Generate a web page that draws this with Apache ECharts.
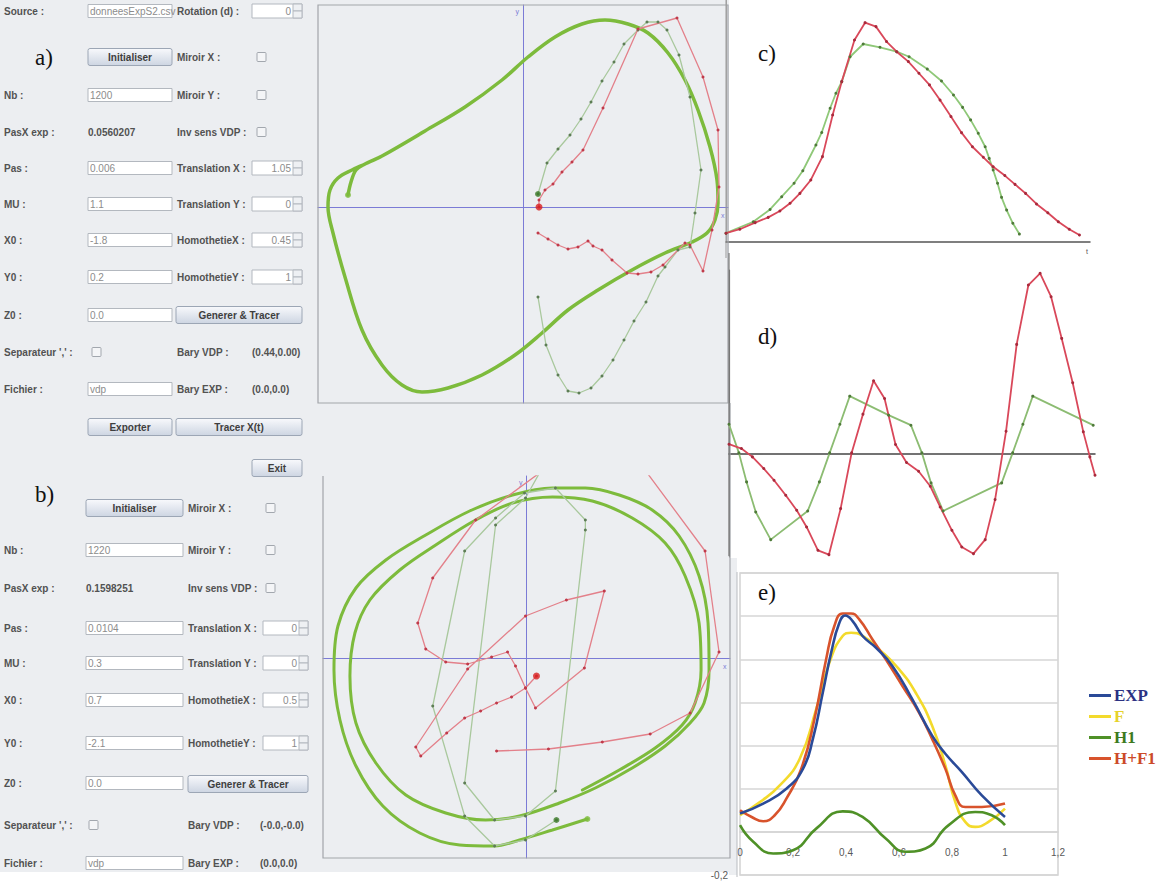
<!DOCTYPE html>
<html>
<head>
<meta charset="utf-8">
<script src="https://cdn.jsdelivr.net/npm/echarts@6/dist/echarts.min.js"></script>
<style>
html, body { margin: 0; padding: 0; background: #fff; }
#chart { width: 1165px; height: 888px; }
</style>
</head>
<body>
<div id="chart"></div>
<script>
// a) phase plane : model (thick), experimental (light green), Van der Pol (red)
const aModel = [[-1.75,0.12],[-1.72,0.25],[-1.67,0.37],[-1.58,0.43],[-1.41,0.51],[-0.98,0.76],[-0.58,1.0],[-0.21,1.27],[0.05,1.5],[0.32,1.7],[0.59,1.83],[0.82,1.87],[1.05,1.83],[1.25,1.74],[1.45,1.54],[1.62,1.27],[1.75,0.97],[1.87,0.6],[1.94,0.27],[1.95,0.04],[1.92,-0.13],[1.84,-0.26],[1.69,-0.35],[1.42,-0.46],[1.09,-0.63],[0.75,-0.83],[0.45,-1.03],[0.19,-1.26],[-0.08,-1.48],[-0.41,-1.68],[-0.75,-1.81],[-1.01,-1.85],[-1.21,-1.78],[-1.41,-1.58],[-1.61,-1.23],[-1.78,-0.7],[-1.9,-0.26],[-1.95,0.0],[-1.93,0.17],[-1.85,0.29],[-1.71,0.37],[-1.58,0.43],[-1.41,0.51],[-0.98,0.76]];
const aExp = [[0.15,0.13],[0.24,0.44],[0.35,0.58],[0.47,0.72],[0.58,0.88],[0.68,1.05],[0.79,1.26],[0.91,1.45],[1.01,1.63],[1.15,1.77],[1.24,1.85],[1.35,1.85],[1.44,1.77],[1.56,1.52],[1.67,1.1],[1.78,0.37],[1.72,-0.06],[1.67,-0.4],[1.55,-0.43],[1.42,-0.6],[1.35,-0.69],[1.23,-0.95],[1.11,-1.14],[1.01,-1.33],[0.9,-1.53],[0.79,-1.69],[0.68,-1.81],[0.56,-1.86],[0.45,-1.84],[0.35,-1.68],[0.23,-1.38],[0.15,-0.9]];
const aVdp = [[0.16,0.0],[0.16,0.07],[0.22,0.17],[0.3,0.23],[0.39,0.35],[0.49,0.45],[0.6,0.57],[0.8,0.99],[1.15,1.78],[1.54,1.89],[1.8,1.3],[1.95,0.77],[1.96,0.2],[1.89,-0.23],[1.8,-0.64],[1.67,-0.38],[1.62,-0.36],[1.4,-0.58],[1.28,-0.65],[1.15,-0.67],[1.04,-0.66],[0.89,-0.53],[0.79,-0.43],[0.7,-0.39],[0.65,-0.34],[0.55,-0.4],[0.45,-0.42],[0.35,-0.38],[0.25,-0.32],[0.15,-0.26]];
const aStartVdp = [[0.16,0.0]];
const aStartExp = [[0.15,0.13]];

// b) phase plane
const bModel = [[0.61,-1.61],[0.26,-1.72],[-0.07,-1.82],[-0.32,-1.88],[-0.67,-1.87],[-1.07,-1.75],[-1.44,-1.48],[-1.71,-1.08],[-1.87,-0.62],[-1.93,-0.12],[-1.89,0.32],[-1.71,0.7],[-1.41,0.98],[-1.01,1.23],[-0.57,1.47],[-0.14,1.63],[0.26,1.7],[0.59,1.7],[0.93,1.63],[1.26,1.48],[1.53,1.22],[1.73,0.82],[1.82,0.35],[1.83,-0.12],[1.78,-0.45],[1.64,-0.65],[1.39,-0.88],[1.06,-1.1],[0.69,-1.3],[0.33,-1.45],[-0.07,-1.58],[-0.41,-1.62],[-0.81,-1.55],[-1.21,-1.37],[-1.51,-1.05],[-1.71,-0.65],[-1.77,-0.18],[-1.72,0.25],[-1.57,0.58],[-1.27,0.88],[-0.91,1.13],[-0.51,1.38],[-0.14,1.55],[0.26,1.61],[0.66,1.57],[1.06,1.4],[1.39,1.15],[1.59,0.82],[1.73,0.35],[1.75,-0.12],[1.69,-0.45],[1.56,-0.67],[1.29,-0.9],[0.93,-1.12],[0.56,-1.32]];
const bExp = [[0.3,-1.62],[-0.01,-1.82],[-0.32,-1.88],[-0.62,-1.58],[-0.94,-0.48],[-0.62,1.07],[-0.31,1.4],[-0.02,1.65],[0.29,1.7],[0.59,1.38],[0.59,1.28],[0.29,-1.33],[-0.01,-1.58],[-0.32,-1.62],[-0.62,-1.25],[-0.31,1.33],[-0.01,1.6],[0.13,1.85]];
const bVdp1 = [[0.13,1.85],[-0.51,1.38],[-0.94,0.8],[-1.09,0.35],[-1.01,0.09],[-0.81,-0.04],[-0.59,-0.06],[-0.35,0.01],[-0.19,0.06],[-0.11,-0.08],[-0.01,-0.3],[0.09,-0.5],[0.58,-0.1],[0.78,0.67],[0.4,0.58],[-0.01,0.42],[-0.59,-0.11],[-1.11,-0.89],[-1.06,-0.98],[-0.8,-0.75],[-0.62,-0.6],[-0.46,-0.53],[-0.3,-0.45],[-0.15,-0.39],[-0.01,-0.3],[0.1,-0.18]];
const bVdp2 = [[1.21,1.85],[1.79,1.07],[1.93,0.06],[1.64,-0.55],[1.24,-0.76],[0.76,-0.84],[0.22,-0.91],[-0.3,-0.93]];
const bStartVdp = [[0.1,-0.18]];
const bStartExp = [[0.3,-1.62]];

// c) x(t)
const cVdp = [[0,0.04],[0.038,0.058],[0.08,0.088],[0.116,0.112],[0.148,0.141],[0.176,0.176],[0.203,0.221],[0.233,0.282],[0.265,0.388],[0.293,0.577],[0.318,0.729],[0.353,0.918],[0.382,0.997],[0.412,0.979],[0.441,0.911],[0.469,0.865],[0.501,0.82],[0.53,0.767],[0.559,0.714],[0.588,0.645],[0.618,0.57],[0.647,0.497],[0.677,0.433],[0.707,0.385],[0.734,0.342],[0.766,0.302],[0.794,0.262],[0.823,0.221],[0.853,0.173],[0.884,0.133],[0.913,0.092],[0.943,0.058],[0.971,0.032]];
const cExp = [[0,0.04],[0.075,0.092],[0.121,0.148],[0.153,0.206],[0.187,0.267],[0.211,0.324],[0.247,0.441],[0.263,0.498],[0.286,0.608],[0.302,0.676],[0.318,0.729],[0.341,0.842],[0.377,0.9],[0.423,0.885],[0.469,0.865],[0.503,0.842],[0.553,0.786],[0.592,0.732],[0.625,0.668],[0.65,0.612],[0.672,0.555],[0.693,0.494],[0.712,0.433],[0.723,0.38],[0.734,0.327],[0.746,0.267],[0.757,0.203],[0.771,0.145],[0.788,0.085],[0.806,0.036]];

// d) derivative
const dVdp = [[0,0.056],[0.034,0.03],[0.064,-0.02],[0.095,-0.09],[0.123,-0.16],[0.155,-0.25],[0.185,-0.34],[0.212,-0.44],[0.243,-0.58],[0.273,-0.606],[0.305,-0.33],[0.335,0.004],[0.366,0.236],[0.395,0.436],[0.425,0.33],[0.455,0.054],[0.485,-0.054],[0.518,-0.106],[0.55,-0.196],[0.577,-0.32],[0.609,-0.46],[0.636,-0.56],[0.668,-0.6],[0.7,-0.516],[0.727,-0.276],[0.757,0.134],[0.786,0.654],[0.818,1.01],[0.85,1.08],[0.88,0.94],[0.909,0.69],[0.939,0.424],[0.968,0.13],[0.986,-0.02],[1.0,-0.13]];
const dExp = [[0,0.176],[0.027,0.004],[0.048,-0.17],[0.073,-0.35],[0.114,-0.516],[0.215,-0.344],[0.247,-0.17],[0.275,0.004],[0.303,0.176],[0.33,0.344],[0.436,0.23],[0.497,0.17],[0.527,0.004],[0.552,-0.176],[0.585,-0.344],[0.745,-0.176],[0.775,0.004],[0.803,0.176],[0.83,0.344],[0.995,0.17]];

// e) comparison
const eNames = ['EXP', 'F', 'H1', 'H+F1'];
const eExp = [[0,0.085],[0.0875,0.131],[0.175,0.2],[0.2375,0.292],[0.275,0.431],[0.3125,0.646],[0.344,0.831],[0.375,0.969],[0.3975,1.003],[0.425,0.977],[0.4625,0.908],[0.5125,0.854],[0.575,0.769],[0.65,0.615],[0.725,0.446],[0.775,0.362],[0.8375,0.277],[0.9125,0.169],[1.0,0.069]];
const eF = [[0,0.077],[0.075,0.138],[0.15,0.215],[0.225,0.338],[0.2875,0.569],[0.3375,0.785],[0.3875,0.908],[0.419,0.923],[0.4625,0.908],[0.525,0.846],[0.6,0.754],[0.6625,0.646],[0.725,0.492],[0.775,0.308],[0.8125,0.138],[0.85,0.046],[0.8875,0.023],[0.9375,0.046],[1.0,0.108]];
const eH1 = [[0,0.031],[0.05,-0.046],[0.125,-0.1],[0.2,-0.085],[0.2875,0.015],[0.3875,0.095],[0.4625,0.069],[0.55,-0.031],[0.625,-0.092],[0.7,-0.077],[0.7875,0.031],[0.8875,0.092],[0.95,0.077],[1.0,0.031]];
const eHF1 = [[0,0.1],[0.044,0.069],[0.0875,0.049],[0.131,0.077],[0.175,0.154],[0.231,0.292],[0.281,0.523],[0.325,0.8],[0.356,0.954],[0.3875,1.012],[0.419,1.012],[0.45,0.985],[0.5,0.892],[0.55,0.8],[0.6125,0.677],[0.675,0.554],[0.725,0.431],[0.775,0.292],[0.8125,0.169],[0.85,0.115],[0.9125,0.115],[1.0,0.131]];
const eLineColors = ['#2a4a98', '#f3da2c', '#4f9127', '#d8532c'];
const eTextColors = ['#2b3183', '#e6d22a', '#3d7a1e', '#cc4a28'];

const chart = echarts.init(document.getElementById('chart'), null, { renderer: 'svg' });

const guiBg = '#eceef1';
const axBlue = '#7b7bd6';
const G = [];

function txt(x, y, s, o) {
  o = o || {};
  const align = o.align || 'left';
  G.push({
    type: 'text', x: x, y: y, z: 5,
    style: {
      text: s,
      font: (o.w || 'bold') + ' ' + (o.size || 10) + 'px ' + (o.family || '"Liberation Sans"'),
      fill: o.fill || '#525252',
      textAlign: align, align: align,
      textVerticalAlign: 'middle', verticalAlign: 'middle'
    }
  });
}
function rect(x, y, w, h, fill, stroke, r) {
  G.push({ type: 'rect', z: 4, shape: { x: x, y: y, width: w, height: h, r: r || 0 }, style: { fill: fill, stroke: stroke || null, lineWidth: 1 } });
}
function input(x, y, w, val) {
  rect(x, y - 6.5, w, 13, '#fff', '#b3b8bf');
  txt(x + 2, y, val, { w: 'normal', size: 10, fill: '#8c8c8c' });
}
function button(x, y, w, label) {
  G.push({ type: 'rect', z: 4, shape: { x: x, y: y - 8.5, width: w, height: 17, r: 2 },
    style: { fill: new echarts.graphic.LinearGradient(0, 0, 0, 1, [{ offset: 0, color: '#f8f9fc' }, { offset: 1, color: '#cdd5e2' }]), stroke: '#9ca6b5' } });
  txt(x + w / 2, y, label, { align: 'center', fill: '#3e3e3e' });
}
function check(x, y) { rect(x, y - 4.5, 9, 9, '#f4f5f7', '#a2a7ae', 1); }
function spin(x, y, w, val) {
  rect(x, y - 7, w, 14, '#fff', '#b3b8bf');
  txt(x + w - 11, y, val, { w: 'normal', size: 10, align: 'right', fill: '#8c8c8c' });
  rect(x + w - 9, y - 7, 9, 7, '#eef0f3', '#b3b8bf');
  rect(x + w - 9, y, 9, 7, '#eef0f3', '#b3b8bf');
}

// GUI backgrounds and plot frames
G.push({ type: 'rect', z: 0, shape: { x: 0, y: 0, width: 729, height: 872 }, style: { fill: guiBg } });
G.push({ type: 'rect', z: 0, shape: { x: 729, y: 558, width: 8, height: 317 }, style: { fill: guiBg } });
G.push({ type: 'rect', z: 1, shape: { x: 318, y: 5, width: 410, height: 398 }, style: { fill: null, stroke: '#a2a5aa', lineWidth: 1.2 } });
G.push({ type: 'polyline', z: 1, shape: { points: [[323, 476], [323, 858], [730, 858], [730, 403]] }, style: { fill: null, stroke: '#a2a5aa', lineWidth: 1.2 } });
G.push({ type: 'line', z: 1, shape: { x1: 737, y1: 572, x2: 737, y2: 877 }, style: { stroke: '#b9bcc0', lineWidth: 1 } });
G.push({ type: 'line', z: 1, shape: { x1: 726, y1: 0, x2: 726, y2: 258 }, style: { stroke: '#9a9a9a', lineWidth: 1 } });
G.push({ type: 'line', z: 1, shape: { x1: 729, y1: 253, x2: 729, y2: 556 }, style: { stroke: '#777', lineWidth: 1.2 } });

// panel a) form
txt(4, 11, 'Source :'); input(88, 11, 84, 'donneesExpS2.csv'); txt(177, 11, 'Rotation (d) :'); spin(252, 11, 50, '0');
button(88, 57, 84, 'Initialiser'); txt(177, 57, 'Miroir X :'); check(257, 57);
txt(4, 95, 'Nb :'); input(88, 95, 84, '1200'); txt(177, 95, 'Miroir Y :'); check(257, 95);
txt(4, 132, 'PasX exp :'); txt(88, 132, '0.0560207'); txt(177, 132, 'Inv sens VDP :'); check(257, 132);
txt(4, 168, 'Pas :'); input(88, 168, 84, '0.006'); txt(177, 168, 'Translation X :'); spin(252, 168, 50, '1.05');
txt(4, 204, 'MU :'); input(88, 204, 84, '1.1'); txt(177, 204, 'Translation Y :'); spin(252, 204, 50, '0');
txt(4, 240, 'X0 :'); input(88, 240, 84, '-1.8'); txt(177, 240, 'HomothetieX :'); spin(252, 240, 50, '0.45');
txt(4, 277, 'Y0 :'); input(88, 277, 84, '0.2'); txt(177, 277, 'HomothetieY :'); spin(252, 277, 50, '1');
txt(4, 315, 'Z0 :'); input(88, 315, 84, '0.0'); button(176, 315, 126, 'Generer & Tracer');
txt(4, 352, "Separateur ',' :"); check(92, 352); txt(177, 352, 'Bary VDP :'); txt(252, 352, '(0.44,0.00)');
txt(4, 389, 'Fichier :'); input(88, 389, 84, 'vdp'); txt(177, 389, 'Bary EXP :'); txt(252, 389, '(0.0,0.0)');
button(88, 427, 84, 'Exporter'); button(176, 427, 126, 'Tracer X(t)');
button(252, 468, 50, 'Exit');

// panel b) form
button(86, 508, 97, 'Initialiser'); txt(188, 508, 'Miroir X :'); check(266, 508);
txt(4, 550, 'Nb :'); input(86, 550, 97, '1220'); txt(188, 550, 'Miroir Y :'); check(266, 550);
txt(4, 588, 'PasX exp :'); txt(86, 588, '0.1598251'); txt(188, 588, 'Inv sens VDP :'); check(266, 588);
txt(4, 628, 'Pas :'); input(86, 628, 97, '0.0104'); txt(188, 628, 'Translation X :'); spin(263, 628, 45, '0');
txt(4, 663, 'MU :'); input(86, 663, 97, '0.3'); txt(188, 663, 'Translation Y :'); spin(263, 663, 45, '0');
txt(4, 700, 'X0 :'); input(86, 700, 97, '0.7'); txt(188, 700, 'HomothetieX :'); spin(263, 700, 45, '0.5');
txt(4, 743, 'Y0 :'); input(86, 743, 97, '-2.1'); txt(188, 743, 'HomothetieY :'); spin(263, 743, 45, '1');
txt(4, 783, 'Z0 :'); input(86, 783, 97, '0.0'); button(188, 784, 120, 'Generer & Tracer');
txt(4, 825, "Separateur ',' :"); check(89, 825); txt(188, 825, 'Bary VDP :'); txt(260, 825, '(-0.0,-0.0)');
txt(4, 863, 'Fichier :'); input(86, 863, 97, 'vdp'); txt(188, 863, 'Bary EXP :'); txt(260, 863, '(0.0,0.0)');

// panel letters
const serif = '"Liberation Serif"';
txt(35, 57, 'a)', { w: 'normal', size: 23, family: serif, fill: '#111' });
txt(35, 494, 'b)', { w: 'normal', size: 23, family: serif, fill: '#111' });
txt(758, 53, 'c)', { w: 'normal', size: 23, family: serif, fill: '#111' });
txt(758, 336, 'd)', { w: 'normal', size: 23, family: serif, fill: '#111' });
txt(758, 592, 'e)', { w: 'normal', size: 23, family: serif, fill: '#111' });

function phaseX(grid, min, max) {
  return {
    gridIndex: grid, type: 'value', min: min, max: max,
    axisLine: { onZero: true, lineStyle: { color: axBlue, width: 1 } },
    axisTick: { show: false }, axisLabel: { show: false }, splitLine: { show: false },
    name: 'x', nameLocation: 'end', nameGap: -7,
    nameTextStyle: { color: axBlue, fontSize: 7, verticalAlign: 'top', padding: [5, 0, 0, 0] }
  };
}
function phaseY(grid, min, max) {
  return {
    gridIndex: grid, type: 'value', min: min, max: max,
    axisLine: { onZero: true, lineStyle: { color: axBlue, width: 1 } },
    axisTick: { show: false }, axisLabel: { show: false }, splitLine: { show: false },
    name: 'y', nameLocation: 'end', nameGap: -10,
    nameTextStyle: { color: axBlue, fontSize: 7, align: 'right', padding: [0, 4, 0, 0] }
  };
}
function plainAxis(grid, min, max, lineColor, width, extra) {
  return Object.assign({
    gridIndex: grid, type: 'value', min: min, max: max,
    axisLine: { onZero: true, lineStyle: { color: lineColor, width: width } },
    axisTick: { show: false }, axisLabel: { show: false }, splitLine: { show: false }
  }, extra || {});
}
function thick(data, i, color, w) {
  return { type: 'line', xAxisIndex: i, yAxisIndex: i, data: data, smooth: 0.35, symbol: 'none',
    lineStyle: { color: color, width: w, cap: 'round' }, z: 3 };
}
function dotted(data, i, lineColor, dotColor, w) {
  return { type: 'line', xAxisIndex: i, yAxisIndex: i, data: data, symbol: 'circle', symbolSize: 3,
    itemStyle: { color: dotColor }, lineStyle: { color: lineColor, width: w }, z: 4 };
}
function dot(data, i, color, size) {
  return { type: 'scatter', xAxisIndex: i, yAxisIndex: i, data: data, symbolSize: size, itemStyle: { color: color }, z: 6 };
}

const series = [
  thick(aModel, 0, '#7dbb3c', 3.5),
  dotted(aExp, 0, '#a9c89d', '#5d7d55', 1.3),
  dotted(aVdp, 0, '#e3808a', '#c03a4a', 1.3),
  dot(aStartVdp, 0, '#d92020', 7),
  dot(aStartExp, 0, '#3d7a2a', 6),
  dot([aModel[0]], 0, '#7dbb3c', 6),

  thick(bModel, 1, '#7dbb3c', 3),
  dotted(bExp, 1, '#a9c89d', '#5d7d55', 1.3),
  dotted(bVdp1, 1, '#e3808a', '#c03a4a', 1.3),
  dotted(bVdp2, 1, '#e3808a', '#c03a4a', 1.3),
  dot(bStartVdp, 1, '#d92020', 7),
  dot(bStartExp, 1, '#3d7a2a', 6),
  dot([bModel[0]], 1, '#7dbb3c', 6),

  dotted(cExp, 2, '#8fc878', '#4f7a3a', 1.8),
  dotted(cVdp, 2, '#d9485a', '#a82a3c', 1.8),

  dotted(dExp, 3, '#8cbc72', '#4f7a3a', 1.8),
  dotted(dVdp, 3, '#d9485a', '#a82a3c', 1.8)
];
[eExp, eF, eH1, eHF1].forEach(function (d, k) {
  series.push({ name: eNames[k], type: 'line', xAxisIndex: 4, yAxisIndex: 4, data: d, smooth: 0.5,
    symbol: 'none', lineStyle: { color: eLineColors[k], width: 2.6 }, itemStyle: { color: eLineColors[k] }, z: 3 + (k === 0 ? 1 : 0) });
});

const option = {
  animation: false,
  backgroundColor: '#fff',
  graphic: { elements: G },
  grid: [
    { left: 318, top: 5, width: 410, height: 398, outerBoundsMode: 'none' },
    { left: 323, top: 476, width: 407, height: 382, outerBoundsMode: 'none' },
    { left: 726, top: 0, width: 364, height: 242, outerBoundsMode: 'none' },
    { left: 729, top: 270, width: 366, height: 287, outerBoundsMode: 'none' },
    { left: 740, top: 573, width: 318, height: 302, show: true, borderColor: '#d2d2d2', borderWidth: 1.5, outerBoundsMode: 'none' }
  ],
  xAxis: [
    phaseX(0, -2.05, 2.05),
    phaseX(1, -2.04, 2.04),
    plainAxis(2, 0, 1, '#555', 1.5, { name: 't', nameLocation: 'end', nameGap: -4,
      nameTextStyle: { color: '#555', fontSize: 7, verticalAlign: 'top', padding: [6, 0, 0, 0] } }),
    plainAxis(3, 0, 1, '#444', 1.5),
    {
      // Excel-like axis: sits on the 0 gridline (43 px above the -0.2 bottom)
      gridIndex: 4, type: 'value', min: 0, max: 1.2, interval: 0.2, position: 'bottom', offset: -43,
      axisLine: { onZero: false, lineStyle: { color: '#d4d4d4', width: 1.5 } },
      axisTick: { show: false }, splitLine: { show: false },
      axisLabel: { margin: 15, color: '#595959', fontSize: 10, fontFamily: '"Liberation Sans"',
        formatter: function (v) { return String(+v.toFixed(1)).replace('.', ','); } }
    }
  ],
  yAxis: [
    phaseY(0, -1.96, 2.02),
    phaseY(1, -2.0, 1.82),
    plainAxis(2, 0, 1.1, '#a8a8a8', 1),
    plainAxis(3, -0.62, 1.1, '#777', 1.2),
    {
      gridIndex: 4, type: 'value', min: -0.2, max: 1.2, interval: 0.2,
      axisLine: { show: false, onZero: false }, axisTick: { show: false },
      splitLine: { lineStyle: { color: '#d6d6d6', width: 1.5 } },
      axisLabel: { margin: 12, color: '#595959', fontSize: 10, fontFamily: '"Liberation Sans"',
        formatter: function (v) { return Math.abs(v + 0.2) < 1e-9 ? '-0,2' : ''; } }
    }
  ],
  legend: {
    orient: 'vertical', left: 1084, top: 682, icon: 'rect', itemWidth: 22, itemHeight: 3, itemGap: 4,
    textStyle: { fontFamily: serif, fontWeight: 'bold', fontSize: 17, padding: [0, 0, 0, -2] },
    data: eNames.map(function (n, k) { return { name: n, textStyle: { color: eTextColors[k] } }; })
  },
  series: series
};

chart.setOption(option);
</script>
</body>
</html>
